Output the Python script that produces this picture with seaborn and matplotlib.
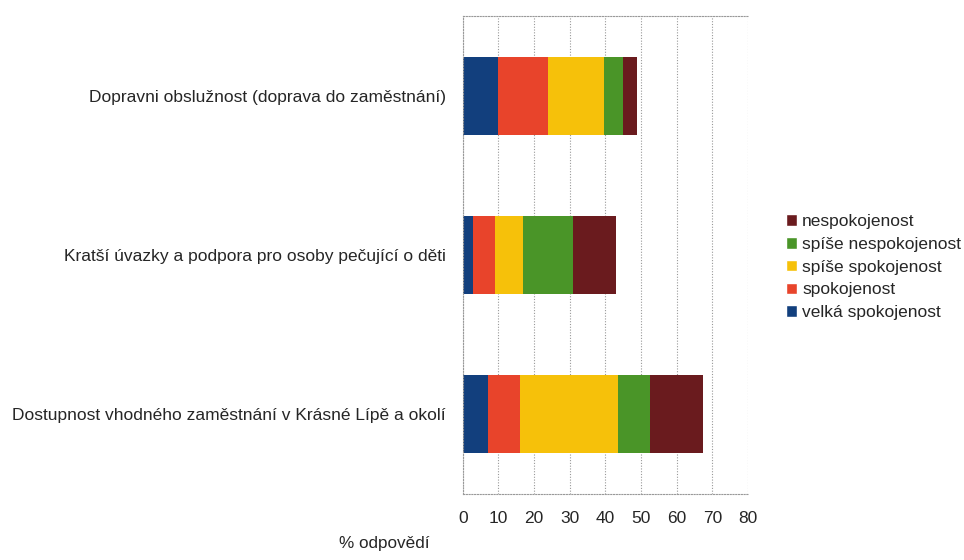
import numpy as np
import pandas as pd
import matplotlib
matplotlib.use('Agg')
import matplotlib.pyplot as plt
import seaborn as sns
from matplotlib.patches import Patch

# Data (% of respondents)
kategorie = ['Dopravni obslužnost (doprava do zaměstnání)',
             'Kratší úvazky a podpora pro osoby pečující o děti',
             'Dostupnost vhodného zaměstnání v Krásné Lípě a okolí']
velka_spokojenost = [10, 3, 7]
spokojenost = [14, 6, 9]
spise_spokojenost = [15.5, 8, 27.5]
spise_nespokojenost = [5.5, 14, 9]
nespokojenost = [4, 12, 15]

serie = ['velká spokojenost', 'spokojenost', 'spíše spokojenost',
         'spíše nespokojenost', 'nespokojenost']
barvy = ['#123f7d', '#e8442b', '#f6c10a', '#4a9528', '#6a1b1e']

sns.set_style('white')
plt.rcParams['font.family'] = ['Liberation Sans', 'DejaVu Sans']

hodnoty = np.array([velka_spokojenost, spokojenost, spise_spokojenost,
                    spise_nespokojenost, nespokojenost])
kumul = np.cumsum(hodnoty, axis=0)

fig = plt.figure(figsize=(9.64, 5.6), dpi=100)
ax = fig.add_axes([0.480, 0.118, 0.296, 0.853])

# stacked bars: draw from the longest cumulative segment down
for i in range(len(serie) - 1, -1, -1):
    df = pd.DataFrame({'kategorie': kategorie, 'hodnota': kumul[i]})
    sns.barplot(data=df, x='hodnota', y='kategorie', color=barvy[i],
                orient='h', width=0.49, saturation=1, linewidth=0,
                edgecolor=barvy[i], ax=ax)

ax.set_xlim(0, 80)
ax.set_xticks(range(0, 81, 10))
ax.set_ylim(2.5, -0.5)
ax.set_xlabel('')
ax.set_ylabel('')
ax.tick_params(axis='x', labelsize=12.5, length=4, color='#888888', pad=8)
ax.tick_params(axis='y', which='major', length=0, labelsize=12.5, pad=12)
ax.set_yticks([0.5, 1.5], minor=True)
ax.tick_params(axis='y', which='minor', length=4, color='#888888')
ax.xaxis.grid(True, linestyle=(0, (1, 1.5)), color='#999999', linewidth=0.8)
ax.set_axisbelow(True)
for s in ax.spines.values():
    s.set_linestyle((0, (1, 1.5)))
    s.set_color('#999999')
    s.set_linewidth(0.8)
ax.spines['right'].set_visible(False)

handles = [Patch(facecolor=barvy[i], label=serie[i]) for i in range(len(serie) - 1, -1, -1)]
fig.legend(handles=handles, loc='center left', bbox_to_anchor=(0.806, 0.523),
           frameon=False, fontsize=12.5, handlelength=0.65, handleheight=0.65,
           handletextpad=0.3, labelspacing=0.45, borderpad=0)

fig.text(0.446, 0.021, '% odpovědí', fontsize=12.3, ha='right')

fig.savefig('out.png', dpi=100)
